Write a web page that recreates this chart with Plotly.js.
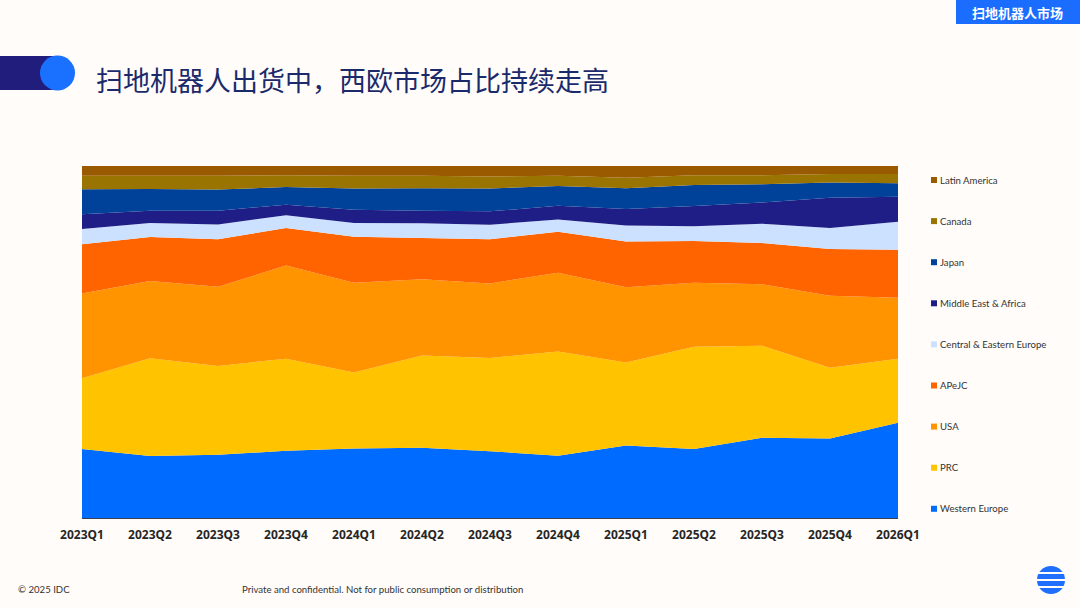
<!DOCTYPE html>
<html>
<head>
<meta charset="utf-8">
<script src="https://cdn.plot.ly/plotly-3.0.1.min.js"></script>
<style>
  html, body { margin: 0; padding: 0; background: #fffcf9; }
  #chart { width: 1080px; height: 608px; }
</style>
</head>
<body>
<div id="chart"></div>
<script>
// ---- data (shares, %) ----
const quarters = ['2023Q1','2023Q2','2023Q3','2023Q4','2024Q1','2024Q2','2024Q3','2024Q4','2025Q1','2025Q2','2025Q3','2025Q4','2026Q1'];
const westernEurope = [19.6, 17.6, 18.0, 19.1, 19.7, 20.0, 19.0, 17.7, 20.6, 19.6, 22.8, 22.6, 27.0];
const prc           = [20.1, 27.8, 25.2, 26.2, 21.6, 26.2, 26.5, 29.6, 23.5, 29.1, 26.2, 20.1, 18.2];
const usa           = [24.1, 21.9, 22.5, 26.5, 25.5, 21.7, 21.2, 22.4, 21.4, 18.2, 17.5, 20.5, 17.3];
const apejc         = [14.0, 12.5, 13.5, 10.7, 13.0, 11.7, 12.6, 11.6, 13.0, 11.9, 11.7, 13.3, 13.6];
const centralEastEu = [4.3, 4.0, 4.2, 3.6, 3.9, 4.2, 4.1, 3.5, 4.5, 4.2, 5.5, 6.0, 8.0];
const mea           = [4.2, 3.5, 3.9, 3.0, 3.8, 3.6, 3.8, 3.9, 4.7, 5.7, 6.0, 8.6, 7.1];
const japan         = [7.1, 6.2, 6.0, 5.0, 6.0, 6.4, 6.5, 5.6, 5.9, 6.0, 5.2, 4.3, 3.8];
const canada        = [3.8, 3.7, 3.9, 3.4, 3.6, 3.5, 3.4, 2.9, 3.0, 2.8, 2.6, 2.4, 2.6];
const latinAmerica  = [2.8, 2.8, 2.8, 2.6, 2.8, 2.8, 3.0, 2.8, 3.3, 2.6, 2.6, 2.3, 2.3];

const seriesNames = ['Western Europe','PRC','USA','APeJC','Central & Eastern Europe','Middle East & Africa','Japan','Canada','Latin America'];
const seriesData  = [westernEurope, prc, usa, apejc, centralEastEu, mea, japan, canada, latinAmerica];
const seriesColors = ['#006bff','#ffc300','#ff9300','#ff6400','#cce0ff','#1f1e86','#00419a','#997400','#9a5b00'];

const titleText = '扫地机器人出货中，西欧市场占比持续走高';
const badgeText = '扫地机器人市场';
const footerLeft = '© 2025 IDC';
const footerMid = 'Private and confidential. Not for public consumption or distribution';

// ---- geometry helpers (pixel -> paper) ----
const L = 82, R = 898, T = 166, B = 518;
const px = x => (x - L) / (R - L);
const py = y => (B - y) / (B - T);

const traces = seriesNames.map((name, i) => ({
  type: 'scatter',
  x: quarters,
  y: seriesData[i],
  name: name,
  stackgroup: 'one',
  groupnorm: i === 0 ? 'percent' : undefined,
  mode: 'none',
  fillcolor: seriesColors[i],
  line: { width: 0, color: seriesColors[i] },
  showlegend: false,
  hoverinfo: 'x+y+name'
}));

const shapes = [];
const annotations = [];
const smallFont = 'Lato, "Noto Sans", sans-serif';

// legend (manual, top to bottom: Latin America ... Western Europe)
const legendOrder = seriesNames.slice().reverse();
const legendColors = seriesColors.slice().reverse();
legendOrder.forEach((name, k) => {
  const yc = 180 + k * 41.1;
  shapes.push({ type: 'rect', xref: 'paper', yref: 'paper',
    x0: px(931), x1: px(937), y0: py(yc + 3), y1: py(yc - 3),
    fillcolor: legendColors[k], line: { width: 0 } });
  annotations.push({ xref: 'paper', yref: 'paper', x: px(937.5), y: py(yc),
    xanchor: 'left', yanchor: 'middle', showarrow: false, text: name,
    font: { family: smallFont, size: 9.6, color: '#333333' } });
});

// title decoration
shapes.push({ type: 'rect', xref: 'paper', yref: 'paper',
  x0: px(0), x1: px(60), y0: py(90), y1: py(56), fillcolor: '#201d7c', line: { width: 0 } });
shapes.push({ type: 'circle', xref: 'paper', yref: 'paper',
  x0: px(40), x1: px(75), y0: py(90.5), y1: py(55.5), fillcolor: '#1a70ff', line: { width: 0 } });

// badge top-right
shapes.push({ type: 'rect', xref: 'paper', yref: 'paper',
  x0: px(956), x1: px(1080), y0: py(24), y1: py(0), fillcolor: '#1a6dff', line: { width: 0 } });

// logo bottom-right
shapes.push({ type: 'circle', xref: 'paper', yref: 'paper',
  x0: px(1037), x1: px(1065), y0: py(594), y1: py(566), fillcolor: '#1f6fff', line: { width: 0 } });
[573, 580, 587].forEach(yy => {
  shapes.push({ type: 'rect', xref: 'paper', yref: 'paper',
    x0: px(1034), x1: px(1068), y0: py(yy + 1), y1: py(yy - 1), fillcolor: '#fffcf9', line: { width: 0 } });
});

annotations.push({ xref: 'paper', yref: 'paper', x: px(94), y: py(79),
  xanchor: 'left', yanchor: 'middle', showarrow: false, text: titleText,
  font: { family: 'Noto Sans CJK SC, sans-serif', size: 27, color: '#1b2a6b' } });
annotations.push({ xref: 'paper', yref: 'paper', x: px(1018), y: py(12),
  xanchor: 'center', yanchor: 'middle', showarrow: false, text: badgeText,
  font: { family: 'Noto Sans CJK SC, sans-serif', size: 13, color: '#ffffff', weight: 'bold' } });
annotations.push({ xref: 'paper', yref: 'paper', x: px(16), y: py(589),
  xanchor: 'left', yanchor: 'middle', showarrow: false, text: footerLeft,
  font: { family: smallFont, size: 9.6, color: '#333333' } });
annotations.push({ xref: 'paper', yref: 'paper', x: px(240), y: py(589),
  xanchor: 'left', yanchor: 'middle', showarrow: false, text: footerMid,
  font: { family: smallFont, size: 9.6, color: '#333333' } });

const layout = {
  width: 1080, height: 608,
  paper_bgcolor: '#fffcf9', plot_bgcolor: '#fffcf9',
  margin: { l: L, r: 1080 - R, t: T, b: 608 - B, pad: 0 },
  showlegend: false,
  xaxis: {
    type: 'category', range: [0, quarters.length - 1],
    showgrid: false, zeroline: false, showline: true, linecolor: '#3b4150', linewidth: 1.2,
    ticks: '', ticklabelstandoff: 5,
    tickfont: { family: 'Noto Sans, sans-serif', size: 12, color: '#262626', weight: 'bold' },
    fixedrange: true
  },
  yaxis: {
    range: [0, 100], visible: false, showgrid: false, zeroline: false, fixedrange: true
  },
  shapes: shapes,
  annotations: annotations
};

Plotly.newPlot('chart', traces, layout, { displayModeBar: false, staticPlot: true });
</script>
</body>
</html>
